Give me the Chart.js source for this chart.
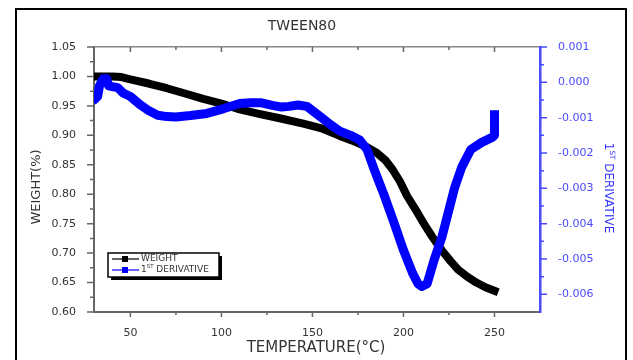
<!DOCTYPE html>
<html>
<head>
<meta charset="utf-8">
<script src="https://cdn.jsdelivr.net/npm/chart.js@4"></script>
<style>
  body { margin: 0; background: #fff; }
  canvas { display: block; }
</style>
</head>
<body>
<canvas id="chart" width="633" height="360"></canvas>
<script>
// TGA of TWEEN80 - weight and 1st derivative vs temperature
const chartTitle = 'TWEEN80';
const xTitle = 'TEMPERATURE(°C)';
const yTitle = 'WEIGHT(%)';
const y2Title = '1ST DERIVATIVE';

const weightTemp = [30, 40, 45, 50, 60, 70, 80, 90, 100, 110, 120, 132, 145, 155, 165, 172, 180, 185, 190, 194, 198, 202, 207, 211, 216, 221, 226, 230, 235, 240, 245, 250];
const weightValues = [1.000, 1.000, 0.999, 0.995, 0.988, 0.980, 0.971, 0.962, 0.954, 0.944, 0.937, 0.929, 0.920, 0.912, 0.899, 0.891, 0.880, 0.871, 0.858, 0.842, 0.822, 0.797, 0.772, 0.751, 0.727, 0.705, 0.686, 0.672, 0.660, 0.650, 0.642, 0.636];

const derivTemp = [31, 32, 33, 35, 37, 38, 40, 43, 46, 50, 55, 60, 65, 70, 75, 83, 92, 101, 110, 116, 122, 128, 133, 137, 142, 147, 150, 155, 160, 165, 171, 176, 180, 184, 189, 195, 200, 205, 208, 210, 213, 217, 221, 225, 228, 232, 237, 243, 249, 250, 250];
const derivValues = [-0.00045, -0.0004, -0.0001, 0.0001, 0.0001, -0.0001, -0.00012, -0.00015, -0.0003, -0.0004, -0.00062, -0.0008, -0.00093, -0.00097, -0.00098, -0.00094, -0.00088, -0.00075, -0.0006, -0.00058, -0.00058, -0.00065, -0.0007, -0.00068, -0.00064, -0.00068, -0.0008, -0.001, -0.0012, -0.00138, -0.0015, -0.00163, -0.0019, -0.00248, -0.00314, -0.004, -0.00475, -0.0054, -0.0057, -0.00578, -0.0057, -0.005, -0.0044, -0.0036, -0.003, -0.0024, -0.0019, -0.0017, -0.00155, -0.0015, -0.00092];

const xTicks = [50, 100, 150, 200, 250];
const weightTicks = [0.60, 0.65, 0.70, 0.75, 0.80, 0.85, 0.90, 0.95, 1.00, 1.05];
const derivTicks = [-0.006, -0.005, -0.004, -0.003, -0.002, -0.001, 0, 0.001];

const FONT = '"DejaVu Sans", Arial, sans-serif';
const GREY = '#333';
const AXIS = '#666';
const BLUE = '#0000ff';
const BLUE_AXIS = '#4a4aff';

// minor ticks sit halfway between the major ones
function midpoints(arr) {
  const out = [];
  for (let i = 0; i < arr.length - 1; i++) out.push((arr[i] + arr[i + 1]) / 2);
  return out;
}

// "1ST DERIVATIVE" -> 1 + superscript ST + rest
function splitLabel(label) {
  const m = label.match(/^(\d)(ST|ND|RD|TH) (.*)$/);
  if (m) return [[m[1], false], [m[2], true], [' ' + m[3], false]];
  return [[label, false]];
}

function drawRich(ctx, parts, x, y, size, align) {
  let w = 0;
  parts.forEach(p => {
    ctx.font = (p[1] ? size * 0.6 : size) + 'px ' + FONT;
    w += ctx.measureText(p[0]).width;
  });
  let cx = align === 'center' ? x - w / 2 : x;
  ctx.textAlign = 'left';
  ctx.textBaseline = 'middle';
  parts.forEach(p => {
    const s = p[1] ? size * 0.6 : size;
    ctx.font = s + 'px ' + FONT;
    ctx.fillText(p[0], cx, p[1] ? y - size * 0.35 : y);
    cx += ctx.measureText(p[0]).width;
  });
}

function tickLines(ctx, scale, values, len, side) {
  const a = scale.chart.chartArea;
  ctx.beginPath();
  values.forEach(v => {
    const p = scale.getPixelForValue(v);
    if (side === 'left') { ctx.moveTo(a.left - len, p); ctx.lineTo(a.left, p); }
    if (side === 'right') { ctx.moveTo(a.right, p); ctx.lineTo(a.right + len, p); }
    if (side === 'bottom') { ctx.moveTo(p, a.bottom); ctx.lineTo(p, a.bottom + len); }
    if (side === 'top') { ctx.moveTo(p, a.top); ctx.lineTo(p, a.top + len); }
  });
  ctx.stroke();
}

const decorPlugin = {
  id: 'decor',
  afterDraw(chart) {
    const ctx = chart.ctx;
    const s = chart.scales;
    ctx.save();

    // outer frame
    ctx.strokeStyle = '#000';
    ctx.lineWidth = 2;
    ctx.strokeRect(16, 9, 610, 360);

    // tick marks
    ctx.lineWidth = 1.5;
    ctx.strokeStyle = AXIS;
    tickLines(ctx, s.y, weightTicks, 7, 'left');
    tickLines(ctx, s.y, midpoints(weightTicks), 4, 'left');
    tickLines(ctx, s.x, xTicks, 5, 'bottom');
    tickLines(ctx, s.x, midpoints(xTicks), 3, 'bottom');
    tickLines(ctx, s.x2, xTicks, 5, 'top');
    tickLines(ctx, s.x2, midpoints(xTicks), 3, 'top');
    ctx.strokeStyle = BLUE_AXIS;
    tickLines(ctx, s.y2, derivTicks, 7, 'right');
    tickLines(ctx, s.y2, midpoints(derivTicks), 4, 'right');

    // titles
    ctx.fillStyle = GREY;
    ctx.textAlign = 'center';
    ctx.textBaseline = 'middle';
    ctx.font = '14px ' + FONT;
    ctx.fillText(chartTitle, 302, 26);
    ctx.font = '15px ' + FONT;
    ctx.fillText(xTitle, 316, 348);

    ctx.save();
    ctx.translate(37, 187);
    ctx.rotate(-Math.PI / 2);
    ctx.font = '13px ' + FONT;
    ctx.fillText(yTitle, 0, 0);
    ctx.restore();

    ctx.save();
    ctx.translate(608, 188);
    ctx.rotate(Math.PI / 2);
    ctx.fillStyle = '#3333ff';
    drawRich(ctx, splitLabel(y2Title), 0, 0, 12, 'center');
    ctx.restore();

    // legend box with drop shadow
    const lx = 108, ly = 253, lw = 111, lh = 24;
    ctx.fillStyle = '#000';
    ctx.fillRect(lx + 3, ly + 3, lw, lh);
    ctx.fillStyle = '#fff';
    ctx.fillRect(lx, ly, lw, lh);
    ctx.lineWidth = 1.5;
    ctx.strokeStyle = '#000';
    ctx.strokeRect(lx, ly, lw, lh);

    const rows = [259, 270];
    chart.data.datasets.forEach((ds, i) => {
      const ry = rows[i];
      ctx.strokeStyle = ds.borderColor;
      ctx.lineWidth = 1.2;
      ctx.beginPath();
      ctx.moveTo(112, ry);
      ctx.lineTo(139, ry);
      ctx.stroke();
      ctx.fillStyle = ds.borderColor;
      ctx.fillRect(122, ry - 3, 6, 6);
      ctx.fillStyle = GREY;
      drawRich(ctx, splitLabel(ds.label), 141, ry, 9, 'left');
    });

    ctx.restore();
  }
};

const weightPoints = weightTemp.map((t, i) => ({ x: t, y: weightValues[i] }));
const derivPoints = derivTemp.map((t, i) => ({ x: t, y: derivValues[i] }));

const tickFont = { family: FONT, size: 11 };

new Chart(document.getElementById('chart'), {
  type: 'line',
  data: {
    datasets: [
      {
        label: 'WEIGHT',
        data: weightPoints,
        yAxisID: 'y',
        borderColor: '#000000',
        borderWidth: 8,
        pointRadius: 0,
        tension: 0,
        borderCapStyle: 'square',
        borderJoinStyle: 'round',
        order: 2
      },
      {
        label: '1ST DERIVATIVE',
        data: derivPoints,
        yAxisID: 'y2',
        borderColor: BLUE,
        borderWidth: 9,
        pointRadius: 0,
        tension: 0,
        borderCapStyle: 'square',
        borderJoinStyle: 'round',
        order: 1
      }
    ]
  },
  options: {
    responsive: false,
    animation: false,
    layout: { padding: 0 },
    plugins: {
      legend: { display: false },
      tooltip: { enabled: false },
      title: { display: false }
    },
    scales: {
      x: {
        type: 'linear',
        position: 'bottom',
        min: 30,
        max: 275,
        afterBuildTicks: s => { s.ticks = xTicks.map(v => ({ value: v })); },
        afterFit: s => { s.height = 48; },
        grid: { display: false },
        border: { display: true, color: AXIS, width: 2 },
        ticks: { color: GREY, font: tickFont, padding: 7, maxRotation: 0, autoSkip: false }
      },
      x2: {
        type: 'linear',
        position: 'top',
        min: 30,
        max: 275,
        afterFit: s => { s.height = 47; },
        grid: { display: false },
        border: { display: true, color: '#888', width: 1.5 },
        ticks: { display: false }
      },
      y: {
        position: 'left',
        min: 0.6,
        max: 1.05,
        afterBuildTicks: s => { s.ticks = weightTicks.map(v => ({ value: v })); },
        afterFit: s => { s.width = 94; },
        grid: { display: false },
        border: { display: true, color: AXIS, width: 2 },
        ticks: { color: GREY, font: tickFont, padding: 10, callback: v => v.toFixed(2) }
      },
      y2: {
        position: 'right',
        min: -0.0065,
        max: 0.001,
        afterBuildTicks: s => { s.ticks = derivTicks.map(v => ({ value: v })); },
        afterFit: s => { s.width = 93; },
        grid: { display: false },
        border: { display: true, color: BLUE_AXIS, width: 2.5 },
        ticks: { color: BLUE_AXIS, font: tickFont, padding: 10, callback: v => v.toFixed(3) }
      }
    }
  },
  plugins: [decorPlugin]
});
</script>
</body>
</html>
